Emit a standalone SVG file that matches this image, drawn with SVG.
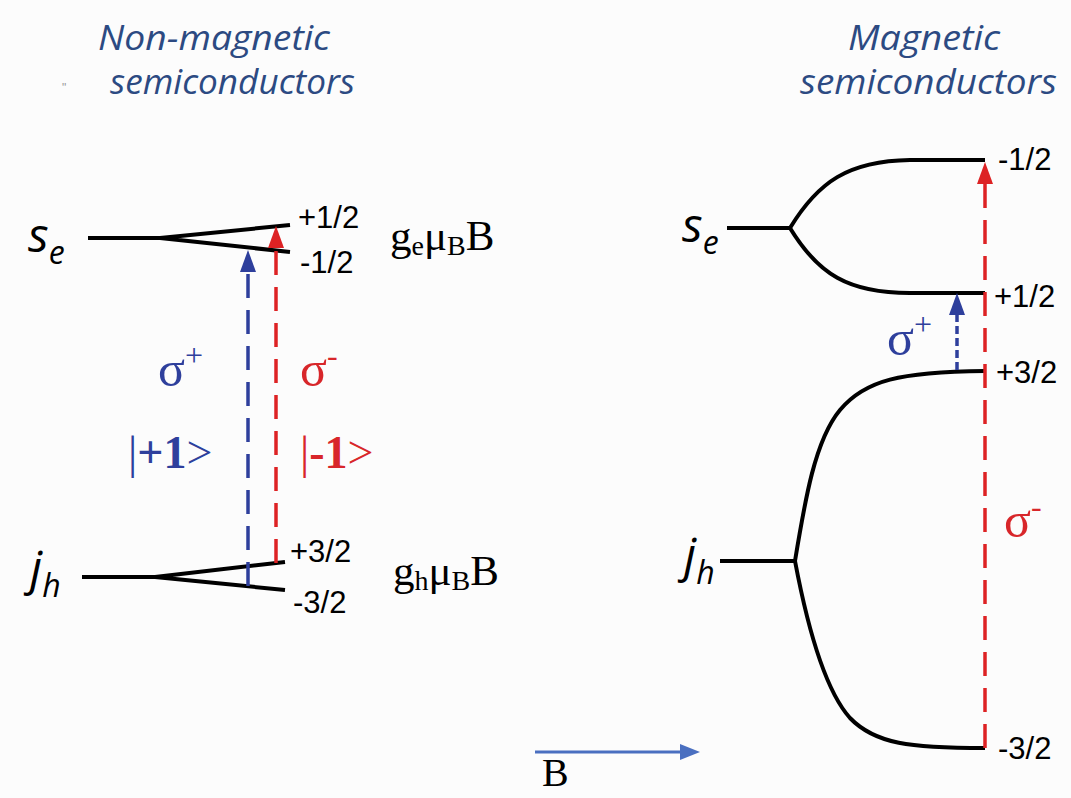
<svg xmlns="http://www.w3.org/2000/svg" width="1071" height="798" viewBox="0 0 1071 798">
<style>
.title{font-family:"Open Sans","Liberation Sans",sans-serif;font-style:italic;font-size:34px;fill:#2c4a82}
.lvl{fill:none;stroke:#000;stroke-width:4;stroke-linecap:butt}
.q{font-family:"Liberation Sans",Arial,sans-serif;font-size:31px;fill:#000}
.sym{font-family:"Open Sans","Liberation Sans",sans-serif;font-style:italic;fill:#000}
.ser{font-family:"Liberation Serif","Times New Roman",serif;fill:#000}
.blue{fill:#2e3f9c}
.red{fill:#d8262a}
.dB{stroke:#2e3f9c;stroke-width:3.5;fill:none;stroke-dasharray:24 12}
.dR{stroke:#dd2224;stroke-width:3.5;fill:none;stroke-dasharray:24 12}
.dBs{stroke:#2e3f9c;stroke-width:3.5;fill:none;stroke-dasharray:8 4}
</style>
<defs>
<marker id="ahB" markerUnits="userSpaceOnUse" viewBox="0 0 22 16" markerWidth="22" markerHeight="16" refX="0" refY="8" orient="auto"><path d="M0,0 L22,8 L0,16 Z" fill="#2e3f9c"/></marker>
<marker id="ahR" markerUnits="userSpaceOnUse" viewBox="0 0 22 16" markerWidth="22" markerHeight="16" refX="0" refY="8" orient="auto"><path d="M0,0 L22,8 L0,16 Z" fill="#dd2224"/></marker>
<marker id="ahBf" markerUnits="userSpaceOnUse" viewBox="0 0 20 16" markerWidth="20" markerHeight="16" refX="0" refY="8" orient="auto"><path d="M0,0 L20,8 L0,16 Z" fill="#4a6fc0"/></marker>
</defs>
<rect width="1071" height="798" fill="#fcfcfc"/>

<g id="titles">
<text class="title" x="98" y="50" textLength="232" lengthAdjust="spacingAndGlyphs">Non-magnetic</text>
<text class="title" x="110" y="94" textLength="245" lengthAdjust="spacingAndGlyphs">semiconductors</text>
<text x="62" y="92" font-family="Liberation Sans,sans-serif" font-size="12" fill="#999">"</text>
<text class="title" x="848" y="50" textLength="152" lengthAdjust="spacingAndGlyphs">Magnetic</text>
<text class="title" x="800" y="94" textLength="257" lengthAdjust="spacingAndGlyphs">semiconductors</text>
</g>

<g id="left-se">
<text class="sym" x="28" y="252" font-size="48">s<tspan font-size="32" dy="12">e</tspan></text>
<path class="lvl" d="M88,238 L160,238 L290,225 M160,238 L290,252"/>
<text class="q" x="298" y="228">+1/2</text>
<text class="q" x="300" y="273">-1/2</text>
<text class="ser" x="390" y="250" font-size="43">g<tspan font-size="28" dy="5">e</tspan><tspan dy="-5">μ</tspan><tspan font-size="28" dy="5">B</tspan><tspan dy="-5">B</tspan></text>
</g>

<g id="left-jh">
<text class="sym" x="30" y="585" font-size="48">j<tspan font-size="32" dy="12">h</tspan></text>
<path class="lvl" d="M82,577 L155,577 L285,562 M155,577 L285,590"/>
<text class="q" x="290" y="562">+3/2</text>
<text class="q" x="293" y="613">-3/2</text>
<text class="ser" x="393" y="585" font-size="43">g<tspan font-size="28" dy="5">h</tspan><tspan dy="-5">μ</tspan><tspan font-size="28" dy="5">B</tspan><tspan dy="-5">B</tspan></text>
</g>

<g id="left-labels">
<text class="ser blue" x="158" y="386" font-size="50">σ<tspan font-size="32" dy="-20">+</tspan></text>
<text class="ser blue" x="128" y="468" font-size="46">|<tspan font-weight="bold">+1</tspan>&gt;</text>
<text class="ser red" x="300" y="386" font-size="50">σ<tspan font-size="32" dy="-20">-</tspan></text>
<text class="ser red" x="300" y="468" font-size="46">|<tspan font-weight="bold">-1</tspan>&gt;</text>
</g>

<g id="right-se">
<text class="sym" x="682" y="242" font-size="48">s<tspan font-size="32" dy="12">e</tspan></text>
<path class="lvl" d="M727,228 L790,228 C818,182 848,161 910,160 L985,160 M790,228 C818,274 848,293 910,293 L985,293"/>
<text class="q" x="998" y="170">-1/2</text>
<text class="q" x="994" y="307">+1/2</text>
<text class="q" x="996" y="383">+3/2</text>
</g>

<g id="right-jh">
<text class="sym" x="684" y="572" font-size="48">j<tspan font-size="32" dy="12">h</tspan></text>
<path class="lvl" d="M720,561 L795,561 C805,500 815,440 840,410 C865,380 900,372 985,371 M795,561 C808,630 825,690 850,718 C875,744 910,748 985,748"/>
<text class="q" x="998" y="759">-3/2</text>
</g>

<g id="right-labels">
<text class="ser blue" x="887" y="355" font-size="50">σ<tspan font-size="32" dy="-20">+</tspan></text>
<text class="ser red" x="1004" y="537" font-size="50">σ<tspan font-size="32" dy="-20">-</tspan></text>
</g>

<g id="B-field">
<line x1="535" y1="752" x2="680" y2="752" stroke="#4a6fc0" stroke-width="3" marker-end="url(#ahBf)"/>
<text class="ser" x="542" y="786" font-size="40">B</text>
</g>

<g id="connectors">
<line class="dB" x1="248" y1="586" x2="248" y2="272" marker-end="url(#ahB)"/>
<line class="dR" x1="276" y1="563" x2="276" y2="248" marker-end="url(#ahR)"/>
<line class="dR" x1="985" y1="748" x2="985" y2="184" marker-end="url(#ahR)"/>
<line class="dBs" x1="957" y1="370" x2="957" y2="315" marker-end="url(#ahB)"/>
</g>
</svg>
